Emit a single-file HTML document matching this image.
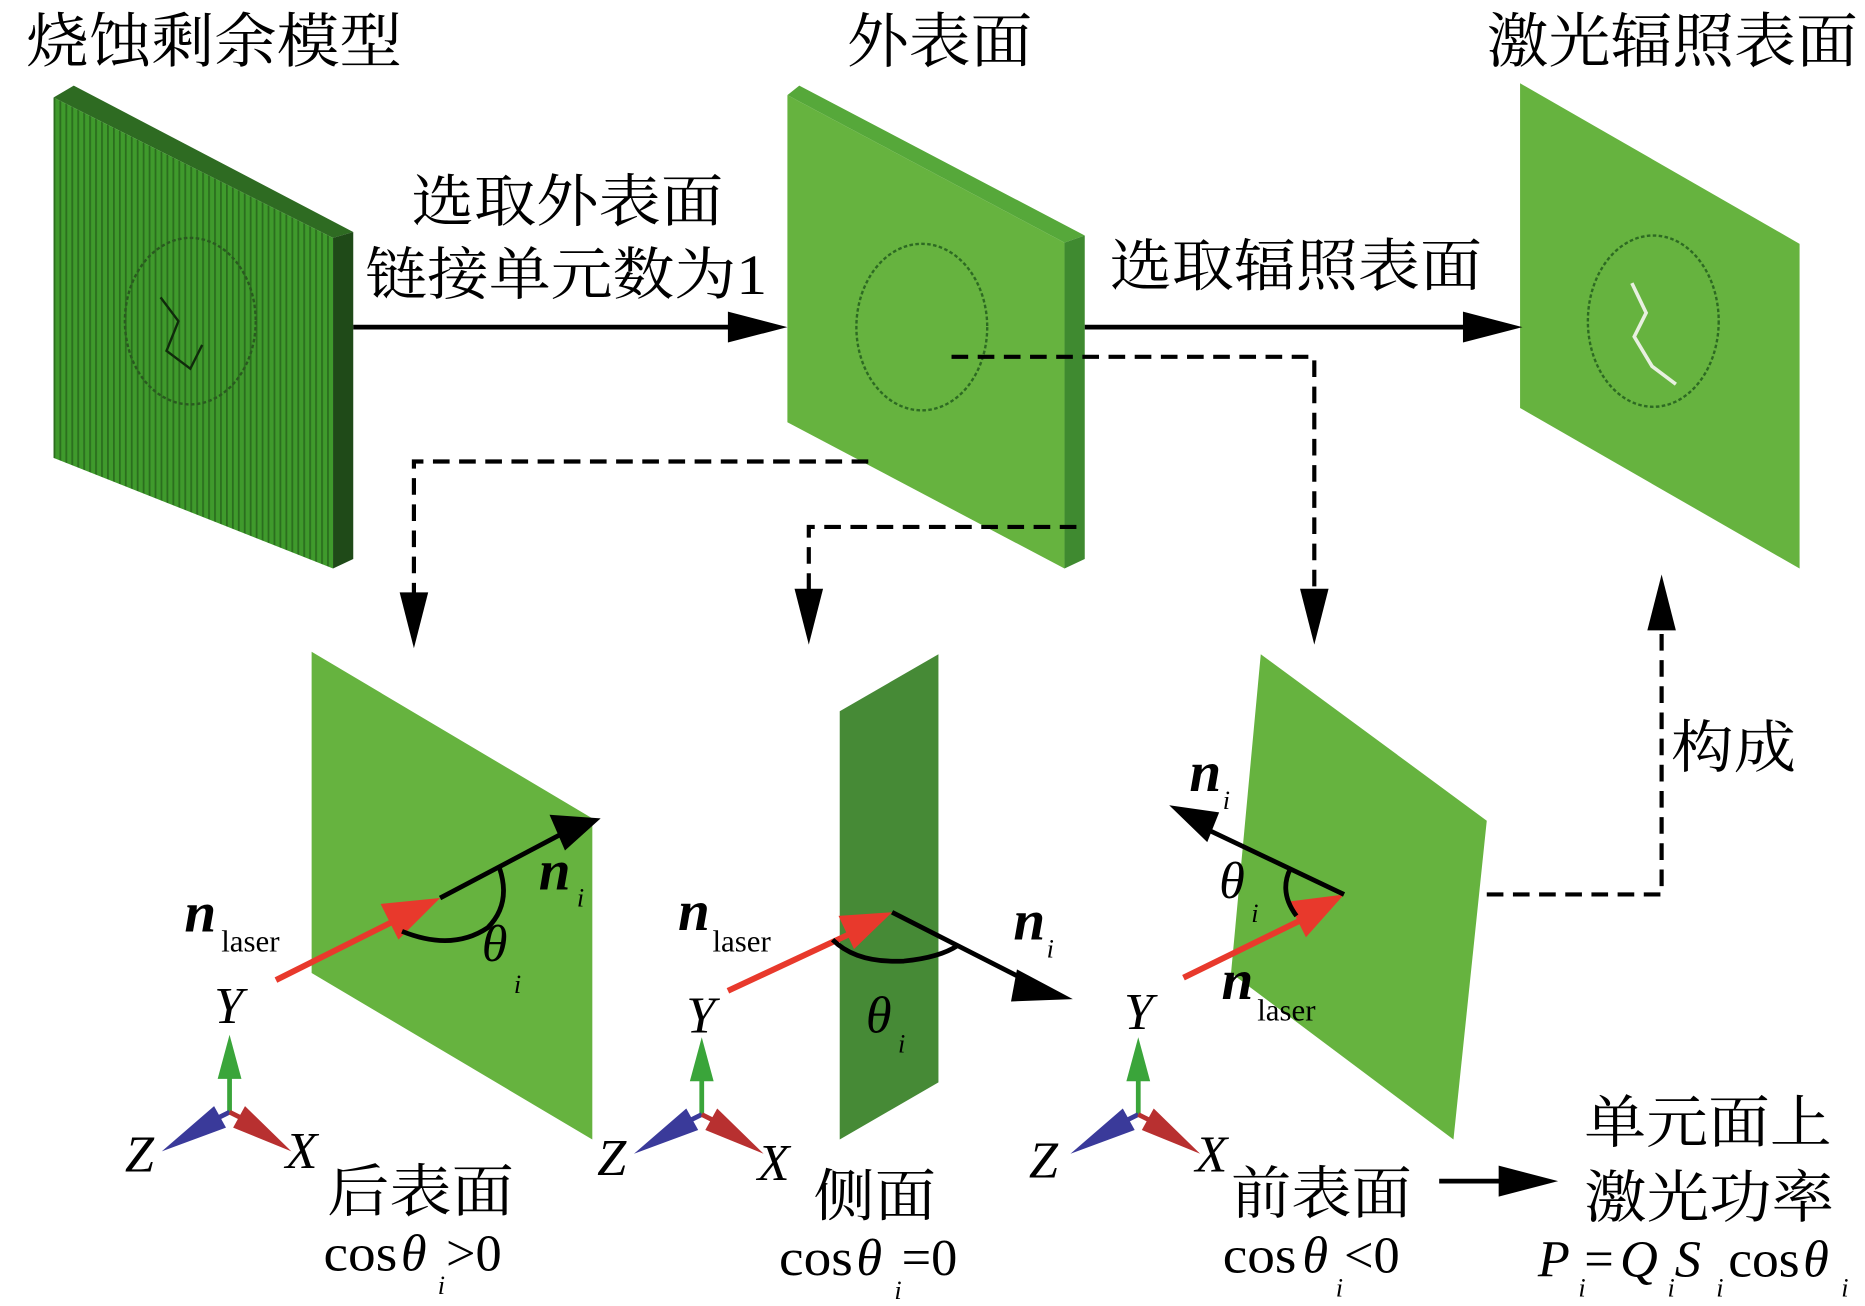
<!DOCTYPE html>
<html><head><meta charset="utf-8"><style>html,body{margin:0;padding:0;background:#fff}svg{display:block}</style></head><body>
<svg width="1865" height="1306" viewBox="0 0 1568 1098" preserveAspectRatio="none" xmlns="http://www.w3.org/2000/svg">
<defs>
<pattern id="stripe" width="5" height="10" patternUnits="userSpaceOnUse"><rect width="5" height="10" fill="#3f9a2c"/><rect width="1.5" height="10" fill="#2b6e1e"/></pattern>
<g id="axes">
<line x1="0" y1="0" x2="0" y2="-30" stroke="#3aa53a" stroke-width="4"/>
<polygon points="-10,-28 10,-28 0,-65" fill="#3aa53a"/>
<line x1="0" y1="0" x2="-20" y2="10" stroke="#3a3a9a" stroke-width="4"/>
<polygon points="-13,-5 -3,13 -57,33" fill="#3a3a9a"/>
<line x1="0" y1="0" x2="20" y2="10" stroke="#b83030" stroke-width="4"/>
<polygon points="13,-5 3,13 52,33" fill="#b83030"/>
</g>
</defs>
<g font-family="'Liberation Serif','Noto Serif CJK SC',serif" fill="#000">
<text x="22" y="52" font-size="50" textLength="316" lengthAdjust="spacingAndGlyphs">烧蚀剩余模型</text>
<text x="712" y="52" font-size="50" textLength="156" lengthAdjust="spacingAndGlyphs">外表面</text>
<text x="1250" y="52" font-size="50" textLength="312" lengthAdjust="spacingAndGlyphs">激光辐照表面</text>
<text x="346" y="186" font-size="48" textLength="262" lengthAdjust="spacingAndGlyphs">选取外表面</text>
<text x="307" y="247" font-size="48" textLength="338" lengthAdjust="spacingAndGlyphs">链接单元数为1</text>
<text x="933" y="240" font-size="48" textLength="313" lengthAdjust="spacingAndGlyphs">选取辐照表面</text>
<text x="1405" y="645" font-size="48" textLength="105" lengthAdjust="spacingAndGlyphs">构成</text>
</g>
<!-- panel 1 -->
<polygon points="45,82 62,72 297,195 280,200" fill="#2e6b22"/>
<polygon points="45,82 280,200 280,478 45,385" fill="url(#stripe)"/>
<polygon points="280,200 297,195 297,470 280,478" fill="#1f4a18"/>
<ellipse cx="160" cy="270" rx="55" ry="70" fill="none" stroke="#2a5a20" stroke-width="2" stroke-dasharray="3,2"/>
<path d="M135,250 l15,20 l-10,25 l20,15 l10,-20" fill="none" stroke="#102a0c" stroke-width="2"/>
<!-- panel 2 -->
<polygon points="662,80 672,72 912,198 895,204" fill="#56a83a"/>
<polygon points="662,80 895,204 895,478 662,355" fill="#66b33f"/>
<polygon points="895,204 912,198 912,470 895,478" fill="#3f8a30"/>
<ellipse cx="775" cy="275" rx="55" ry="70" fill="none" stroke="#2d6a22" stroke-width="2" stroke-dasharray="3,2"/>
<!-- panel 3 -->
<polygon points="1278,70 1513,205 1513,478 1278,343" fill="#66b33f"/>
<ellipse cx="1390" cy="270" rx="55" ry="72" fill="none" stroke="#2d6a22" stroke-width="2" stroke-dasharray="3,2"/>
<path d="M1372,238 l12,25 l-10,20 l15,25 l20,15" fill="none" stroke="#e8f0e0" stroke-width="3"/>
<!-- solid arrows -->
<line x1="297" y1="275" x2="625" y2="275" stroke="#000" stroke-width="4"/>
<polygon points="612,262 662,275 612,288" fill="#000"/>
<line x1="912" y1="275" x2="1240" y2="275" stroke="#000" stroke-width="4"/>
<polygon points="1230,262 1280,275 1230,288" fill="#000"/>
<line x1="1210" y1="993" x2="1270" y2="993" stroke="#000" stroke-width="4"/>
<polygon points="1260,980 1310,993 1260,1006" fill="#000"/>
<!-- dashed -->
<g fill="none" stroke="#000" stroke-width="3.5" stroke-dasharray="14,8">
<polyline points="800,300 1105,300 1105,505"/>
<polyline points="730,388 348,388 348,505"/>
<polyline points="905,443 680,443 680,505"/>
<polyline points="1250,752 1397,752 1397,520"/>
</g>
<polygon points="336,498 360,498 348,545" fill="#000"/>
<polygon points="668,495 692,495 680,542" fill="#000"/>
<polygon points="1093,495 1117,495 1105,542" fill="#000"/>
<polygon points="1385,530 1409,530 1397,483" fill="#000"/>
<!-- bottom panels -->
<polygon points="262,548 498,688 498,958 262,818" fill="#66b33f"/>
<polygon points="706,598 789,550 789,910 706,958" fill="#468a36"/>
<polygon points="1060,550 1250,690 1222,958 1035,818" fill="#66b33f"/>
<!-- vectors panel 1 -->
<line x1="232" y1="824" x2="330" y2="775" stroke="#e8392c" stroke-width="5"/>
<polygon points="320,760 370,755 335,790" fill="#e8392c"/>
<line x1="370" y1="755" x2="480" y2="697" stroke="#000" stroke-width="4"/>
<polygon points="462,685 505,688 475,715" fill="#000"/>
<path d="M338,783 Q380,800 410,780 Q430,760 420,730" fill="none" stroke="#000" stroke-width="4"/>
<!-- panel 2 -->
<line x1="612" y1="833" x2="715" y2="785" stroke="#e8392c" stroke-width="5"/>
<polygon points="705,770 750,767 718,798" fill="#e8392c"/>
<line x1="750" y1="767" x2="870" y2="828" stroke="#000" stroke-width="4"/>
<polygon points="855,815 902,840 850,842" fill="#000"/>
<path d="M700,790 Q720,810 760,808 Q790,805 805,795" fill="none" stroke="#000" stroke-width="4"/>
<!-- panel 3 -->
<line x1="995" y1="822" x2="1095" y2="773" stroke="#e8392c" stroke-width="5"/>
<polygon points="1083,758 1130,752 1098,788" fill="#e8392c"/>
<line x1="1130" y1="752" x2="1010" y2="695" stroke="#000" stroke-width="4"/>
<polygon points="1025,683 983,677 1015,708" fill="#000"/>
<path d="M1085,730 Q1075,750 1090,770" fill="none" stroke="#000" stroke-width="4"/>
<!-- axes -->
<use href="#axes" x="193" y="935"/>
<use href="#axes" x="590" y="937"/>
<use href="#axes" x="957" y="937"/>
<g font-family="'Liberation Serif','Noto Serif CJK SC',serif" fill="#000">
<g font-style="italic" font-size="44">
<text x="180" y="860">Y</text><text x="105" y="985">Z</text><text x="240" y="982">X</text>
<text x="577" y="868">Y</text><text x="502" y="988">Z</text><text x="637" y="992">X</text>
<text x="945" y="865">Y</text><text x="865" y="990">Z</text><text x="1005" y="985">X</text>
<text x="405" y="808">θ</text><text x="728" y="868">θ</text><text x="1025" y="755">θ</text>
<text x="337" y="1068">θ</text><text x="720" y="1072">θ</text><text x="1095" y="1070">θ</text>
<text x="1293" y="1073">P</text><text x="1362" y="1073">Q</text><text x="1408" y="1073">S</text><text x="1516" y="1073">θ</text>
</g>
<g font-style="italic" font-size="22">
<text x="432" y="835">i</text><text x="755" y="885">i</text><text x="1052" y="775">i</text>
<text x="485" y="762">i</text><text x="880" y="805">i</text><text x="1028" y="680">i</text>
<text x="368" y="1088">i</text><text x="752" y="1092">i</text><text x="1123" y="1090">i</text>
<text x="1327" y="1090">i</text><text x="1402" y="1090">i</text><text x="1443" y="1090">i</text><text x="1548" y="1090">i</text>
</g>
<g font-style="italic" font-weight="bold" font-size="48">
<text x="155" y="783">n</text><text x="570" y="782">n</text><text x="1027" y="840">n</text>
<text x="453" y="748">n</text><text x="852" y="790">n</text><text x="1000" y="665">n</text>
</g>
<g font-size="26">
<text x="186" y="800">laser</text><text x="599" y="800">laser</text><text x="1057" y="858">laser</text>
</g>
<g font-size="44">
<text x="272" y="1068" textLength="62" lengthAdjust="spacingAndGlyphs">cos</text><text x="375" y="1068">&gt;0</text>
<text x="655" y="1072" textLength="62" lengthAdjust="spacingAndGlyphs">cos</text><text x="758" y="1072">=0</text>
<text x="1028" y="1070" textLength="62" lengthAdjust="spacingAndGlyphs">cos</text><text x="1130" y="1070">&lt;0</text>
<text x="1332" y="1073">=</text><text x="1453" y="1073" textLength="60" lengthAdjust="spacingAndGlyphs">cos</text>
</g>
<g font-size="48">
<text x="275" y="1018" textLength="157" lengthAdjust="spacingAndGlyphs">后表面</text>
<text x="684" y="1022" textLength="103" lengthAdjust="spacingAndGlyphs">侧面</text>
<text x="1035" y="1020" textLength="152" lengthAdjust="spacingAndGlyphs">前表面</text>
<text x="1332" y="960" textLength="208" lengthAdjust="spacingAndGlyphs">单元面上</text>
<text x="1332" y="1023" textLength="210" lengthAdjust="spacingAndGlyphs">激光功率</text>
</g>
</g>
</svg>
</body></html>
